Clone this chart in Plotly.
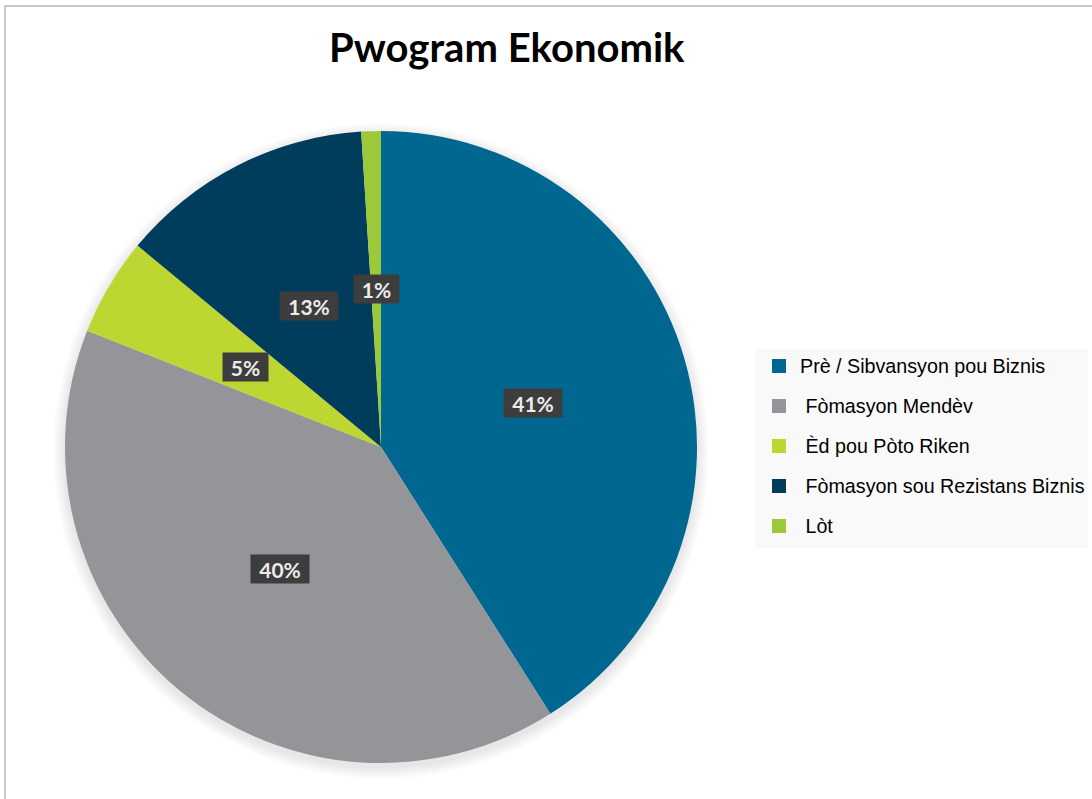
import math
import plotly.graph_objects as go

# Program breakdown (percent of total)
categories = [
    "Prè / Sibvansyon pou Biznis",
    "Fòmasyon Mendèv",
    "Èd pou Pòto Riken",
    "Fòmasyon sou Rezistans Biznis",
    "Lòt",
]
legend_labels = [
    "Prè / Sibvansyon pou Biznis",
    " Fòmasyon Mendèv",
    " Èd pou Pòto Riken",
    " Fòmasyon sou Rezistans Biznis",
    " Lòt",
]
values = [41, 40, 5, 13, 1]
colors = ["#006890", "#939598", "#bdd631", "#003c5c", "#9cc93c"]

W, H = 1092, 799
# pie placement in pixels
cx, cy, R = 381, 447, 316


def px(x):
    return x / W


def py(y):
    return 1 - y / H


fig = go.Figure()
fig.add_trace(go.Pie(
    labels=categories,
    values=values,
    sort=False,
    direction="clockwise",
    rotation=0,
    marker=dict(colors=colors, line=dict(width=0)),
    textinfo="none",
    hoverinfo="label+percent",
    showlegend=False,
    domain=dict(x=[px(cx - R), px(cx + R)], y=[py(cy + R), py(cy - R)]),
))

annotations = []
shapes = []

# soft shadow under the pie
for k in range(1, 9):
    r = R + k * 1.5
    shapes.append(dict(
        type="circle", xref="paper", yref="paper",
        x0=px(cx - r), x1=px(cx + r), y0=py(cy + 4 + r), y1=py(cy + 4 - r),
        fillcolor="rgba(0,0,0,0.012)", line=dict(width=0), layer="below",
    ))

# percentage labels at the middle of each slice
total = sum(values)
cum = 0
for v in values:
    a = (cum + v / 2) / total * 2 * math.pi
    cum += v
    lx = cx + 0.5 * R * math.sin(a)
    ly = cy - 0.5 * R * math.cos(a)
    txt = f"{round(v / total * 100)}%"
    annotations.append(dict(
        x=px(lx), y=py(ly), xref="paper", yref="paper",
        xanchor="center", yanchor="middle",
        text=f"<b>{txt}</b>", showarrow=False,
        font=dict(family="Lato, Open Sans, sans-serif", size=21, color="#ececec"),
        bgcolor="#3d3d3d", borderpad=5,
        width=13 * len(txt) + 9, height=18,
    ))

# title
annotations.append(dict(
    x=px(507), y=py(47), xref="paper", yref="paper",
    xanchor="center", yanchor="middle",
    text="<b>Pwogram Ekonomik</b>", showarrow=False,
    font=dict(family="Lato, sans-serif", size=40, color="#000000"),
))

# legend panel
shapes.append(dict(
    type="rect", xref="paper", yref="paper",
    x0=px(755), x1=px(1088), y0=py(548), y1=py(349),
    fillcolor="#f9f9f9", line=dict(width=0), layer="below",
))
for i, (lab, col) in enumerate(zip(legend_labels, colors)):
    yc = 366 + 40 * i
    shapes.append(dict(
        type="rect", xref="paper", yref="paper",
        x0=px(772), x1=px(786), y0=py(yc + 7), y1=py(yc - 7),
        fillcolor=col, line=dict(width=0),
    ))
    annotations.append(dict(
        x=px(798), y=py(yc), xref="paper", yref="paper",
        xanchor="left", yanchor="middle",
        text=lab.replace(" ", "&nbsp;", 1) if lab.startswith(" ") else lab,
        showarrow=False,
        font=dict(family="Liberation Sans, Arial, sans-serif", size=19.7, color="#000000"),
    ))

# frame lines along the top and left edges
shapes.append(dict(type="line", xref="paper", yref="paper",
                   x0=px(5), x1=1, y0=py(6), y1=py(6),
                   line=dict(color="#c8c8c8", width=2)))
shapes.append(dict(type="line", xref="paper", yref="paper",
                   x0=px(5), x1=px(5), y0=py(5), y1=0,
                   line=dict(color="#c8c8c8", width=2)))

fig.update_layout(
    width=W, height=H,
    margin=dict(l=0, r=0, t=0, b=0),
    paper_bgcolor="#ffffff",
    plot_bgcolor="#ffffff",
    showlegend=False,
    annotations=annotations,
    shapes=shapes,
)

fig.write_html("out.html")
